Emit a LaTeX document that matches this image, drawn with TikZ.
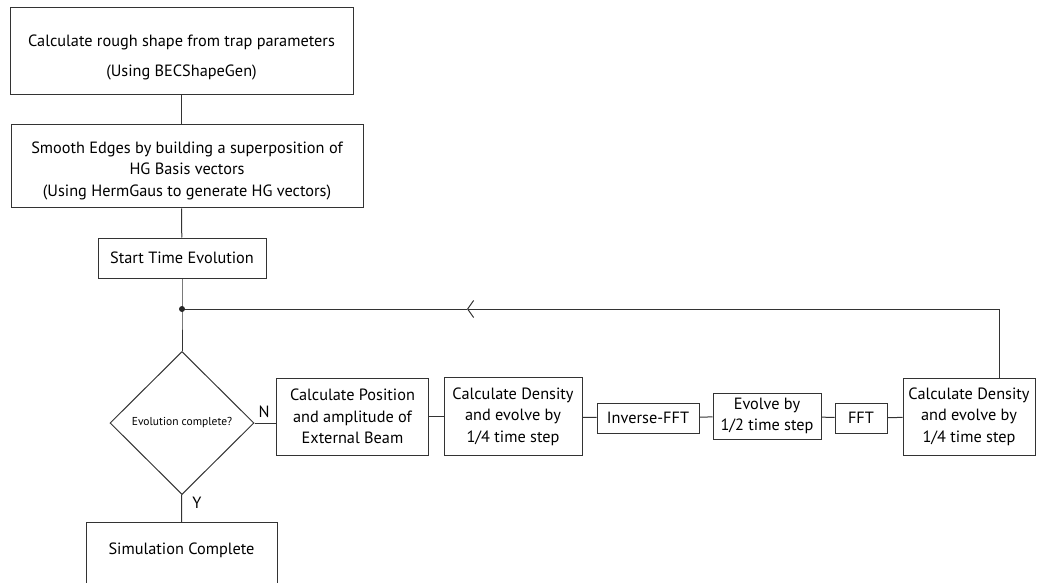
\documentclass[tikz,border=0pt]{standalone}
\usepackage{fontspec}
\setmainfont{PT Sans}
\usetikzlibrary{shapes.geometric,arrows.meta}

\begin{document}
\begin{tikzpicture}[x=1pt,y=-1pt,
  box/.style={draw=black!80,line width=1pt,align=center,inner sep=0pt,
    font=\fontsize{16.3}{21.5}\selectfont},
  link/.style={draw=black!80,line width=1pt},
  tag/.style={font=\fontsize{16.3}{18}\selectfont,inner sep=0pt}]
\clip (0,0) rectangle (1037,583);

\node[box,minimum width=343pt,minimum height=87pt] (rough) at (181.5,51.5)
  {\rule{0pt}{24pt}Calculate rough shape from trap parameters\\[8pt](Using BECShapeGen)};
\node[box,minimum width=352pt,minimum height=83pt] (smooth) at (187,166.5)
  {\rule{0pt}{20pt}Smooth Edges by building a superposition of\\HG Basis vectors\\(Using HermGaus to generate HG vectors)};
\node[box,minimum width=168pt,minimum height=40pt] (start) at (182,258) {Start Time Evolution};
\node[draw=black!80,line width=1pt,diamond,aspect=1,inner sep=0pt,minimum width=144pt,
  minimum height=143pt,font=\fontsize{11.5}{13}\selectfont] (dia) at (182,423) {Evolution complete?};
\node[box,anchor=north,minimum width=191pt,inner ysep=22pt,text height=10pt,text depth=60pt]
  (sim) at (181.5,522) {Simulation Complete};

\node[box,minimum width=152pt,minimum height=77pt] (pos) at (352.5,416.5)
  {Calculate Position\\and amplitude of\\External Beam};
\node[box,minimum width=138pt,minimum height=78pt] (densa) at (513,416.5)
  {Calculate Density\\and evolve by\\1/4 time step};
\node[box,minimum width=102pt,minimum height=30pt] (ifft) at (648,418) {Inverse-FFT};
\node[box,minimum width=108pt,minimum height=46pt] (half) at (767,416) {Evolve by\\1/2 time step};
\node[box,minimum width=52pt,minimum height=30pt] (fft) at (861,418) {FFT};
\node[box,minimum width=132pt,minimum height=77pt] (densb) at (969,416.5)
  {Calculate Density\\and evolve by\\1/4 time step};

\coordinate (join) at (182,309);
\coordinate (turn) at (999,309);
\coordinate (tip) at (467,309);

\draw[link] (rough) -- (rough.south |- smooth.north);
\draw[link] (rough.south |- smooth.south) -- (start);
\draw[link] (start) -- (join) -- (dia);
\draw[link] (dia) -- (sim.north);
\draw[link] (dia.east) -- (dia.east -| pos.west);
\draw[link] (pos.east |- densa.west) -- (densa);
\draw[link] (densa) -- (ifft);
\draw[link] (ifft) -- (half);
\draw[link] (half) -- (fft);
\draw[link] (fft) -- (densb);
\draw[link,-{Straight Barb[length=6pt,width=17pt]}] (densb.north -| turn) -- (turn) -- (tip);
\draw[link] (tip) -- (join);
\fill[black!85] (join) circle (3pt);

\node[tag] (no) at (264,412) {N};
\node[tag] (yes) at (197,503) {Y};
\end{tikzpicture}
\end{document}
